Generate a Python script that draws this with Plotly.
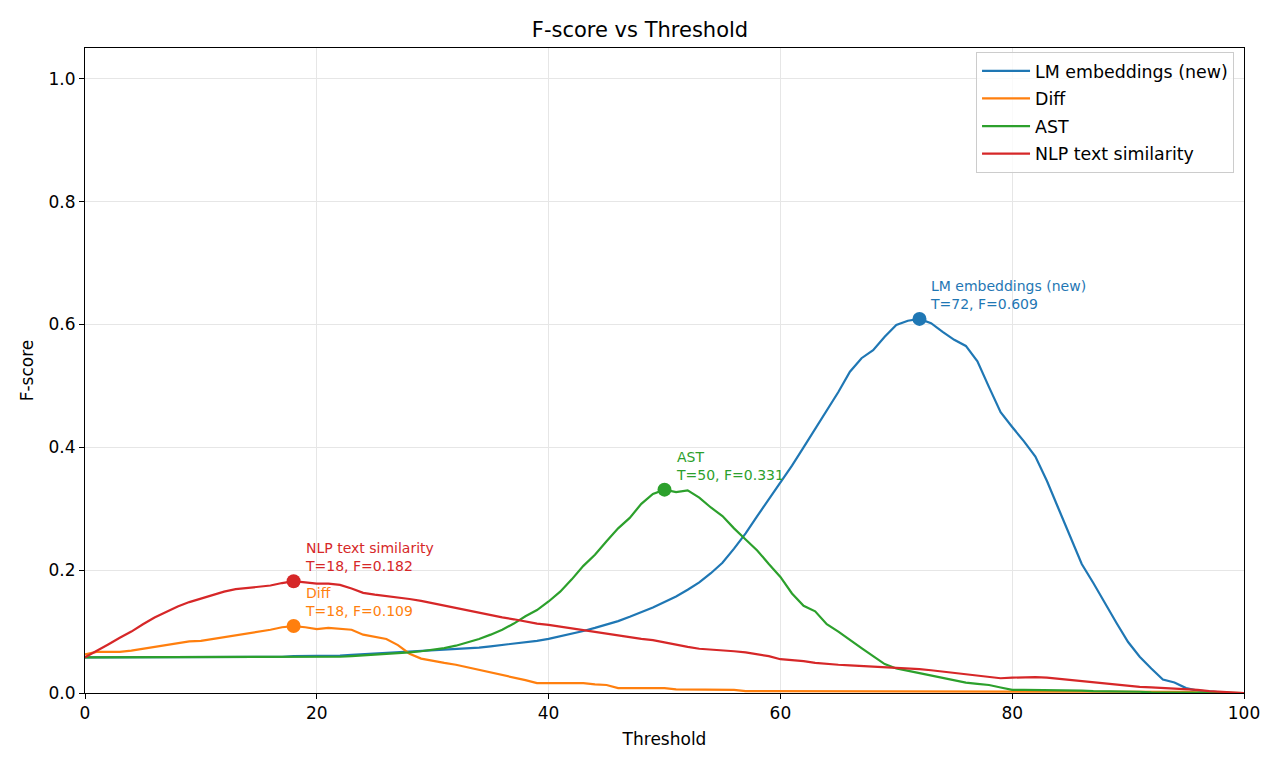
import plotly.graph_objects as go

thresholds = list(range(0, 101))

lm_embeddings = [
    0.058, 0.058, 0.058, 0.058, 0.058, 0.058, 0.058, 0.058, 0.058, 0.058,
    0.058, 0.058, 0.058, 0.059, 0.059, 0.059, 0.059, 0.059, 0.060, 0.060,
    0.060, 0.061, 0.061, 0.062, 0.063, 0.064, 0.065, 0.066, 0.067, 0.068,
    0.069, 0.070, 0.071, 0.073, 0.074, 0.076, 0.078, 0.080, 0.082, 0.085,
    0.088, 0.092, 0.096, 0.101, 0.106, 0.111, 0.117, 0.124, 0.131, 0.139,
    0.148, 0.157, 0.168, 0.180, 0.195, 0.212, 0.235, 0.260, 0.288, 0.315,
    0.343, 0.370, 0.400, 0.430, 0.460, 0.490, 0.523, 0.545, 0.558, 0.580,
    0.599, 0.606, 0.609, 0.602, 0.588, 0.575, 0.565, 0.540, 0.498, 0.457,
    0.433, 0.410, 0.385, 0.345, 0.300, 0.255, 0.210, 0.179, 0.146, 0.114,
    0.083, 0.059, 0.040, 0.022, 0.017, 0.008, 0.004, 0.002, 0.001, 0.000,
    0.000,
]

diff = [
    0.063, 0.067, 0.067, 0.067, 0.069, 0.072, 0.075, 0.078, 0.081, 0.084,
    0.085, 0.088, 0.090, 0.093, 0.096, 0.100, 0.103, 0.107, 0.109, 0.107,
    0.104, 0.106, 0.104, 0.103, 0.095, 0.092, 0.088, 0.078, 0.064, 0.056,
    0.052, 0.049, 0.046, 0.042, 0.038, 0.033, 0.030, 0.026, 0.021, 0.016,
    0.016, 0.016, 0.016, 0.016, 0.014, 0.013, 0.008, 0.008, 0.008, 0.008,
    0.008, 0.006, 0.006, 0.006, 0.006, 0.006, 0.005, 0.003, 0.003, 0.003,
    0.003, 0.003, 0.003, 0.003, 0.003, 0.003, 0.003, 0.003, 0.003, 0.003,
    0.003, 0.003, 0.003, 0.003, 0.003, 0.003, 0.003, 0.003, 0.003, 0.003,
    0.003, 0.003, 0.003, 0.003, 0.003, 0.003, 0.003, 0.003, 0.002, 0.002,
    0.002, 0.002, 0.002, 0.002, 0.002, 0.002, 0.001, 0.001, 0.001, 0.000,
    0.000,
]

ast = [
    0.058, 0.058, 0.058, 0.058, 0.058, 0.058, 0.058, 0.058, 0.058, 0.058,
    0.058, 0.058, 0.058, 0.058, 0.058, 0.058, 0.058, 0.058, 0.058, 0.058,
    0.058, 0.059, 0.059, 0.060, 0.061, 0.062, 0.063, 0.064, 0.066, 0.068,
    0.070, 0.073, 0.077, 0.082, 0.088, 0.095, 0.103, 0.113, 0.125, 0.135,
    0.149, 0.165, 0.185, 0.207, 0.225, 0.247, 0.268, 0.285, 0.308, 0.324,
    0.331, 0.327, 0.330, 0.318, 0.302, 0.288, 0.268, 0.250, 0.232, 0.210,
    0.189, 0.162, 0.142, 0.133, 0.112, 0.100, 0.086, 0.073, 0.060, 0.047,
    0.040, 0.036, 0.033, 0.028, 0.024, 0.020, 0.017, 0.015, 0.013, 0.009,
    0.005, 0.005, 0.005, 0.005, 0.005, 0.005, 0.004, 0.003, 0.003, 0.003,
    0.002, 0.002, 0.001, 0.001, 0.001, 0.001, 0.001, 0.000, 0.000, 0.000,
    0.000,
]

nlp_text = [
    0.058, 0.068, 0.079, 0.090, 0.100, 0.112, 0.123, 0.132, 0.141, 0.148,
    0.154, 0.160, 0.165, 0.169, 0.171, 0.173, 0.175, 0.179, 0.182, 0.180,
    0.178, 0.178, 0.176, 0.170, 0.163, 0.160, 0.158, 0.156, 0.153, 0.150,
    0.146, 0.142, 0.138, 0.134, 0.130, 0.126, 0.123, 0.120, 0.116, 0.113,
    0.111, 0.108, 0.105, 0.103, 0.099, 0.096, 0.093, 0.090, 0.088, 0.086,
    0.082, 0.078, 0.075, 0.072, 0.071, 0.070, 0.068, 0.066, 0.063, 0.060,
    0.055, 0.054, 0.052, 0.049, 0.047, 0.046, 0.045, 0.044, 0.044, 0.043,
    0.042, 0.040, 0.039, 0.037, 0.035, 0.033, 0.031, 0.029, 0.026, 0.024,
    0.025, 0.026, 0.026, 0.025, 0.023, 0.021, 0.020, 0.018, 0.016, 0.014,
    0.012, 0.010, 0.009, 0.008, 0.008, 0.007, 0.005, 0.003, 0.002, 0.001,
    0.000,
]

series_names = ["LM embeddings (new)", "Diff", "AST", "NLP text similarity"]
series_values = [lm_embeddings, diff, ast, nlp_text]
series_colors = ["#1f77b4", "#ff7f0e", "#2ca02c", "#d62728"]

x_ticks = [0, 20, 40, 60, 80, 100]
y_ticks = [0.0, 0.2, 0.4, 0.6, 0.8, 1.0]

FONT = "DejaVu Sans, Liberation Sans, sans-serif"

fig = go.Figure()
for name, vals, col in zip(series_names, series_values, series_colors):
    fig.add_trace(go.Scatter(x=thresholds, y=vals, mode="lines", name=name,
                             legendgroup=name,
                             line=dict(color=col, width=2.2)))

for name, vals, col in zip(series_names, series_values, series_colors):
    best = max(range(len(vals)), key=lambda i: vals[i])
    bx, by = thresholds[best], vals[best]
    fig.add_trace(go.Scatter(x=[bx], y=[by], mode="markers", showlegend=False,
                             legendgroup=name,
                             marker=dict(color=col, size=14), hoverinfo="skip"))
    fig.add_annotation(x=bx, y=by, text=f"{name}<br>T={bx}, F={by:.3f}",
                       showarrow=False, xanchor="left", yanchor="bottom",
                       align="left", xshift=9, yshift=5,
                       font=dict(family=FONT, size=14, color=col))

axis_common = dict(showline=True, linecolor="black", linewidth=1, mirror=True,
                   ticks="outside", ticklen=5, tickwidth=1, tickcolor="black",
                   showgrid=True, gridcolor="#e6e6e6", gridwidth=1, zeroline=False,
                   tickfont=dict(family=FONT, size=17, color="black"))

fig.update_xaxes(range=[0, 100], tickvals=x_ticks,
                 title=dict(text="Threshold", font=dict(family=FONT, size=17, color="black"),
                            standoff=10),
                 **axis_common)
fig.update_yaxes(range=[0, 1.05], tickvals=y_ticks, tickformat=".1f",
                 title=dict(text="F-score", font=dict(family=FONT, size=17, color="black"),
                            standoff=10),
                 **axis_common)

fig.update_layout(
    width=1280, height=768,
    margin=dict(l=85, r=36, t=48, b=75),
    plot_bgcolor="white", paper_bgcolor="white",
    font=dict(family=FONT, color="black"),
    title=dict(text="F-score vs Threshold", x=0.5, xanchor="center",
               y=1 - 30 / 768, yanchor="middle",
               font=dict(family=FONT, size=21, color="black")),
    legend=dict(x=0.9914, y=0.9938, xanchor="right", yanchor="top",
                bgcolor="rgba(255,255,255,0.8)", bordercolor="#cccccc", borderwidth=1,
                font=dict(family=FONT, size=17.4, color="black"),
                tracegroupgap=2, itemwidth=48),
    showlegend=True,
)

fig.write_html("out.html")
